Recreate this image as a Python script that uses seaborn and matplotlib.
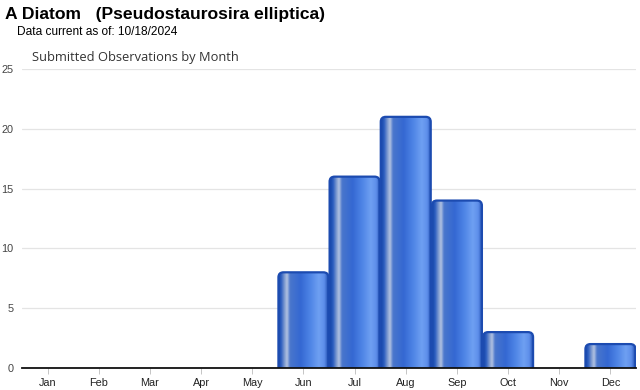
import matplotlib
matplotlib.use("Agg")
import matplotlib.pyplot as plt
import seaborn as sns
import numpy as np
import pandas as pd
from matplotlib.patches import FancyBboxPatch
from matplotlib.colors import LinearSegmentedColormap

months = ["Jan", "Feb", "Mar", "Apr", "May", "Jun", "Jul", "Aug", "Sep", "Oct", "Nov", "Dec"]
counts = [0, 0, 0, 0, 0, 8, 16, 21, 14, 3, 0, 2]
y_ticks = [0, 5, 10, 15, 20, 25]

title = "A Diatom   (Pseudostaurosira elliptica)"
subtitle_date = "Data current as of: 10/18/2024"
chart_title = "Submitted Observations by Month"

df = pd.DataFrame({"month": months, "count": counts})

sns.set_theme(style="white")
plt.rcParams['font.family'] = ['Liberation Sans', 'DejaVu Sans']

fig = plt.figure(figsize=(6.4, 3.9), dpi=100)
ax = fig.add_axes([22/640, 22/390, 614/640, 299/390])

sns.barplot(data=df, x="month", y="count", ax=ax, width=1.0, color="#3a6cd0")

ax.set_ylim(0, 25)
ax.set_xlim(-0.5, 11.5)
ax.set_yticks(y_ticks)
ax.yaxis.grid(True, color="#e4e4e4", linewidth=0.9)
ax.set_axisbelow(True)
for s in ["top", "right", "left"]:
    ax.spines[s].set_visible(False)
ax.spines["bottom"].set_color("#111111")
ax.spines["bottom"].set_linewidth(1.3)
ax.spines["bottom"].set_zorder(10)
ax.set_xlabel("")
ax.set_ylabel("")
ax.tick_params(axis="y", length=0, labelsize=7.8, labelcolor="#444444", pad=6)
ax.tick_params(axis="x", length=4, width=0.6, color="#bbbbbb", labelsize=7.8,
               labelcolor="#222222", pad=3, bottom=True, direction="out")

# gradient for cylindrical bars
cmap = LinearSegmentedColormap.from_list("cyl", [
    (0.00, "#1746a6"),
    (0.06, "#2a5cc0"),
    (0.13, "#7f9bd0"),
    (0.18, "#b4c4e2"),
    (0.24, "#4a76cc"),
    (0.45, "#3468d2"),
    (0.65, "#4f85e6"),
    (0.82, "#6fa0f2"),
    (0.93, "#5d8eea"),
    (1.00, "#2552b4"),
])
grad = np.linspace(0, 1, 256).reshape(1, -1)

# data units per pixel
px_x = 12 / 614
px_y = 25 / 299
aspect = px_y / px_x

for p in list(ax.patches):
    h = p.get_height()
    x = p.get_x()
    w = p.get_width()
    p.set_alpha(0)
    if h <= 0:
        continue
    x0 = x + 0.6 * px_x
    w0 = w - 1.2 * px_x
    box = FancyBboxPatch((x0, -1), w0, h + 1,
                         boxstyle="round,pad=0,rounding_size=%f" % (5 * px_x),
                         mutation_aspect=aspect,
                         facecolor="none", edgecolor="#1c4bb0", linewidth=1.6,
                         zorder=4, transform=ax.transData)
    ax.add_patch(box)
    im = ax.imshow(grad, extent=(x0, x0 + w0, -1, h), aspect="auto", cmap=cmap,
                   zorder=3, interpolation="bicubic")
    im.set_clip_path(box)

ax.set_xlim(-0.5, 11.5)
ax.set_ylim(0, 25)

fig.text(5/640, 1 - 14/390, title, fontsize=12.6, fontweight="bold",
         color="#000000", va="center", ha="left")
fig.text(17/640, 1 - 32/390, subtitle_date, fontsize=8.6, color="#000000",
         va="center", ha="left")
fig.text(32/640, 1 - 57/390, chart_title, fontsize=9.3, color="#333333",
         va="center", ha="left", family=["Open Sans", "DejaVu Sans"])

fig.savefig("out.png", dpi=100)
